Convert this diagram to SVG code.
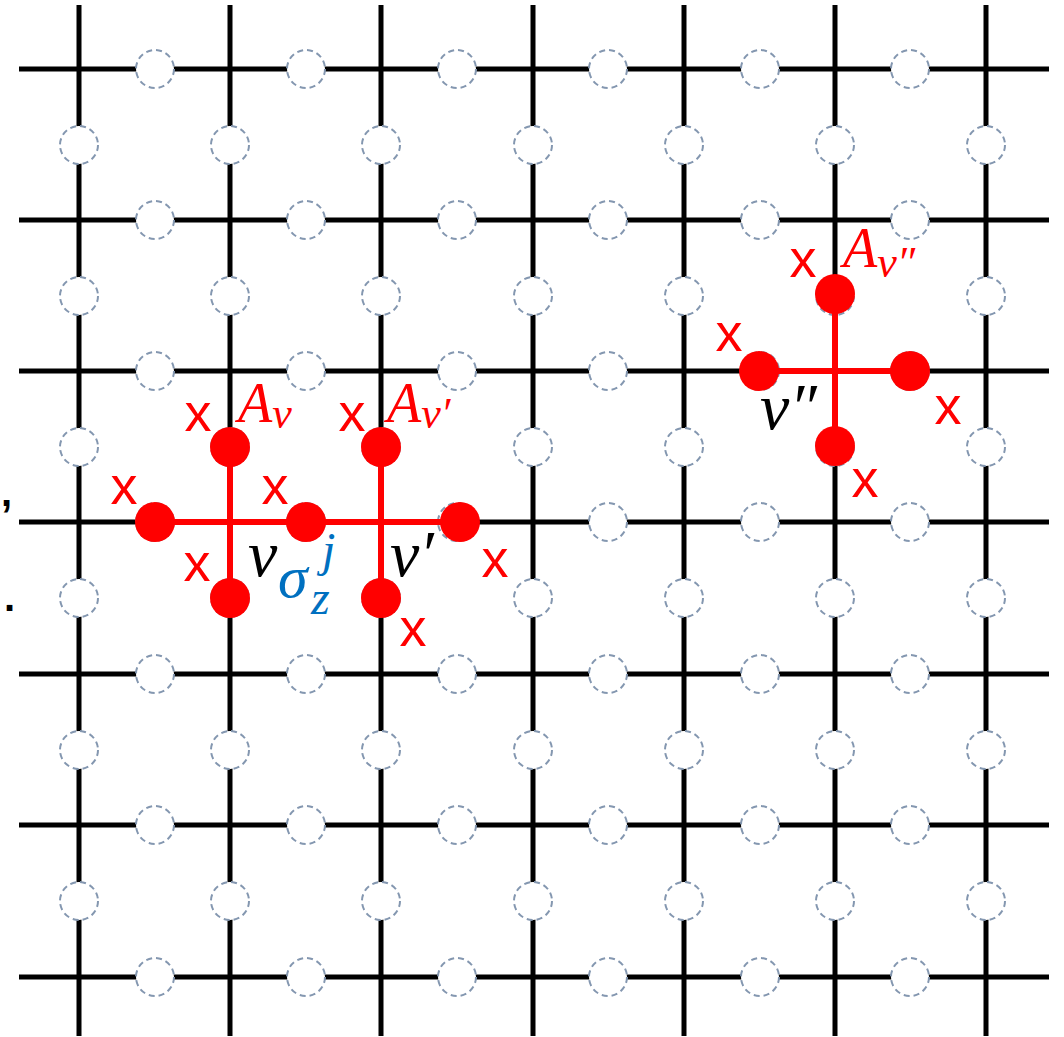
<svg xmlns="http://www.w3.org/2000/svg" width="1064" height="1037" viewBox="0 0 1064 1037">
<style>
.grid line{stroke:#000;stroke-width:5}
.q{fill:#fff;stroke:#8497B0;stroke-width:2;stroke-dasharray:6 4}
.rl{stroke:#FF0000;stroke-width:6}
.rd{fill:#FF0000}
.xl{font-family:"Liberation Sans",Arial,sans-serif;font-size:54px;fill:#FF0000;text-anchor:middle}
.m{font-family:"Liberation Serif","Times New Roman",serif;font-style:italic}
.red{fill:#FF0000}
.blk{fill:#000}
.blue{fill:#0070C0}
</style>
<defs>
<circle id="qc" r="19" class="q"/>
</defs>
<rect width="1064" height="1037" fill="#fff"/>
<g id="connectors" class="grid">
<line x1="79" y1="5" x2="79" y2="1036"/>
<line x1="230" y1="5" x2="230" y2="1036"/>
<line x1="381" y1="5" x2="381" y2="1036"/>
<line x1="533" y1="5" x2="533" y2="1036"/>
<line x1="684" y1="5" x2="684" y2="1036"/>
<line x1="835" y1="5" x2="835" y2="1036"/>
<line x1="986" y1="5" x2="986" y2="1036"/>
<line x1="19" y1="69" x2="1049" y2="69"/>
<line x1="19" y1="220" x2="1049" y2="220"/>
<line x1="19" y1="371" x2="1049" y2="371"/>
<line x1="19" y1="522" x2="1049" y2="522"/>
<line x1="19" y1="674" x2="1049" y2="674"/>
<line x1="19" y1="825" x2="1049" y2="825"/>
<line x1="19" y1="977" x2="1049" y2="977"/>
</g>
<g id="qubits">
<g id="row0"><use href="#qc" x="155" y="69"/><use href="#qc" x="306" y="69"/><use href="#qc" x="457" y="69"/><use href="#qc" x="608" y="69"/><use href="#qc" x="760" y="69"/><use href="#qc" x="910" y="69"/></g>
<g id="row1"><use href="#qc" x="155" y="220"/><use href="#qc" x="306" y="220"/><use href="#qc" x="457" y="220"/><use href="#qc" x="608" y="220"/><use href="#qc" x="760" y="220"/><use href="#qc" x="910" y="220"/></g>
<g id="row2"><use href="#qc" x="155" y="371"/><use href="#qc" x="306" y="371"/><use href="#qc" x="457" y="371"/><use href="#qc" x="608" y="371"/><use href="#qc" x="760" y="371"/><use href="#qc" x="910" y="371"/></g>
<g id="row3"><use href="#qc" x="155" y="522"/><use href="#qc" x="306" y="522"/><use href="#qc" x="457" y="522"/><use href="#qc" x="608" y="522"/><use href="#qc" x="760" y="522"/><use href="#qc" x="910" y="522"/></g>
<g id="row4"><use href="#qc" x="155" y="674"/><use href="#qc" x="306" y="674"/><use href="#qc" x="457" y="674"/><use href="#qc" x="608" y="674"/><use href="#qc" x="760" y="674"/><use href="#qc" x="910" y="674"/></g>
<g id="row5"><use href="#qc" x="155" y="825"/><use href="#qc" x="306" y="825"/><use href="#qc" x="457" y="825"/><use href="#qc" x="608" y="825"/><use href="#qc" x="760" y="825"/><use href="#qc" x="910" y="825"/></g>
<g id="row6"><use href="#qc" x="155" y="977"/><use href="#qc" x="306" y="977"/><use href="#qc" x="457" y="977"/><use href="#qc" x="608" y="977"/><use href="#qc" x="760" y="977"/><use href="#qc" x="910" y="977"/></g>
<g id="col0"><use href="#qc" x="79" y="145"/><use href="#qc" x="79" y="296"/><use href="#qc" x="79" y="447"/><use href="#qc" x="79" y="598"/><use href="#qc" x="79" y="750"/><use href="#qc" x="79" y="901"/></g>
<g id="col1"><use href="#qc" x="230" y="145"/><use href="#qc" x="230" y="296"/><use href="#qc" x="230" y="447"/><use href="#qc" x="230" y="598"/><use href="#qc" x="230" y="750"/><use href="#qc" x="230" y="901"/></g>
<g id="col2"><use href="#qc" x="381" y="145"/><use href="#qc" x="381" y="296"/><use href="#qc" x="381" y="447"/><use href="#qc" x="381" y="598"/><use href="#qc" x="381" y="750"/><use href="#qc" x="381" y="901"/></g>
<g id="col3"><use href="#qc" x="533" y="145"/><use href="#qc" x="533" y="296"/><use href="#qc" x="533" y="447"/><use href="#qc" x="533" y="598"/><use href="#qc" x="533" y="750"/><use href="#qc" x="533" y="901"/></g>
<g id="col4"><use href="#qc" x="684" y="145"/><use href="#qc" x="684" y="296"/><use href="#qc" x="684" y="447"/><use href="#qc" x="684" y="598"/><use href="#qc" x="684" y="750"/><use href="#qc" x="684" y="901"/></g>
<g id="col5"><use href="#qc" x="835" y="145"/><use href="#qc" x="835" y="296"/><use href="#qc" x="835" y="447"/><use href="#qc" x="835" y="598"/><use href="#qc" x="835" y="750"/><use href="#qc" x="835" y="901"/></g>
<g id="col6"><use href="#qc" x="986" y="145"/><use href="#qc" x="986" y="296"/><use href="#qc" x="986" y="447"/><use href="#qc" x="986" y="598"/><use href="#qc" x="986" y="750"/><use href="#qc" x="986" y="901"/></g>
</g>
<g id="star-v">
<line class="rl" x1="230" y1="447" x2="230" y2="598"/>
<line class="rl" x1="155" y1="522" x2="306" y2="522"/>
<circle class="rd" cx="230" cy="447" r="20"/>
<circle class="rd" cx="230" cy="598" r="20"/>
<circle class="rd" cx="155" cy="522" r="20"/>
<text class="xl" x="198" y="431">x</text>
<text class="xl" x="124" y="504">x</text>
<text class="xl" x="197" y="581">x</text>
<text class="m red" x="238" y="422" font-size="56">A<tspan font-size="44" y="428">v</tspan></text>
<text class="m blk" x="248" y="576" font-size="66">v</text>
</g>
<g id="star-vp">
<line class="rl" x1="381" y1="447" x2="381" y2="598"/>
<line class="rl" x1="306" y1="522" x2="460" y2="522"/>
<circle class="rd" cx="381" cy="447" r="20"/>
<circle class="rd" cx="381" cy="598" r="20"/>
<circle class="rd" cx="460" cy="522" r="20"/>
<text class="xl" x="352" y="431">x</text>
<text class="xl" x="495" y="577">x</text>
<text class="xl" x="413" y="646">x</text>
<text class="m red" x="387" y="422" font-size="56">A<tspan font-size="44" y="428">v′</tspan></text>
<text class="m blk" x="390" y="576" font-size="66">v′</text>
</g>
<g id="shared-qubit">
<circle class="rd" cx="306" cy="522" r="20"/>
<text class="xl" x="275" y="504">x</text>
<text class="m blue" x="278" y="597" font-size="60">σ</text>
<text class="m blue" x="311" y="614" font-size="48">z</text>
<text class="m blue" x="322" y="566" font-size="48">j</text>
</g>
<g id="star-vpp">
<line class="rl" x1="835" y1="294" x2="835" y2="446"/>
<line class="rl" x1="759" y1="371" x2="910" y2="371"/>
<circle class="rd" cx="835" cy="294" r="20"/>
<circle class="rd" cx="835" cy="446" r="20"/>
<circle class="rd" cx="759" cy="371" r="20"/>
<circle class="rd" cx="910" cy="371" r="20"/>
<text class="xl" x="803" y="277">x</text>
<text class="xl" x="729" y="351">x</text>
<text class="xl" x="948" y="424">x</text>
<text class="xl" x="865" y="497">x</text>
<text class="m red" x="843" y="267" font-size="56">A<tspan font-size="44" y="277">v″</tspan></text>
<text class="m blk" x="760" y="429" font-size="66">v″</text>
</g>
<g id="edge-marks">
<text x="1" y="506" font-family="Liberation Sans,Arial,sans-serif" font-size="40" font-weight="bold">,</text>
<text x="4" y="611" font-family="Liberation Sans,Arial,sans-serif" font-size="40" font-weight="bold">.</text>
</g>
</svg>
